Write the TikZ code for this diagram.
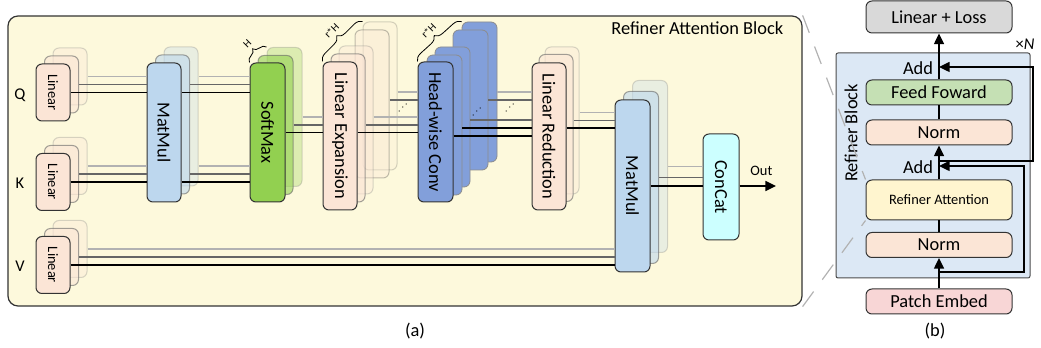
\documentclass[tikz,border=0pt]{standalone}
\usepackage{fontspec}
\setmainfont{Carlito}
\usetikzlibrary{arrows.meta,decorations.pathreplacing}
\definecolor{panelbg}{HTML}{FDF9DC}
\definecolor{peach}{HTML}{FBE5D6}
\definecolor{mulblue}{HTML}{BDD7EE}
\definecolor{softgreen}{HTML}{92D050}
\definecolor{convblue}{HTML}{829FDA}
\definecolor{catcyan}{HTML}{CCFFFF}
\definecolor{blockbg}{HTML}{DCE8F5}
\definecolor{ffgreen}{HTML}{C5E0B4}
\definecolor{attyellow}{HTML}{FFF5CF}
\definecolor{lossgray}{HTML}{D9D9D9}
\definecolor{embpink}{HTML}{F8D6D6}
\newcommand{\fbig}{\fontsize{13.8}{16}\selectfont}
\newcommand{\fmid}{\fontsize{12.3}{14}\selectfont}
\newcommand{\fsmall}{\fontsize{10.8}{13}\selectfont}
\newcommand{\ftiny}{\fontsize{8}{9}\selectfont}
\newcommand{\vtext}[1]{\rotatebox{-90}{#1}}
\tikzstyle{box}=[shape=rectangle,rounded corners=4.5pt,draw=black!80,line width=0.75pt,inner sep=0pt]
\tikzstyle{fadeA}=[draw=black!60,opacity=0.6]
\tikzstyle{fadeB}=[draw=black!50,opacity=0.3]
\tikzstyle{linbox}=[box,fill=peach,minimum width=25.5pt,minimum height=42.75pt,font=\fsmall]
\tikzstyle{mulbox}=[box,fill=mulblue,minimum width=25.5pt,minimum height=104.25pt,font=\fbig]
\tikzstyle{softbox}=[box,fill=softgreen,minimum width=26.25pt,minimum height=104.25pt,font=\fbig]
\tikzstyle{expbox}=[box,fill=peach,minimum width=25.5pt,minimum height=111pt,font=\fbig]
\tikzstyle{convbox}=[box,fill=convblue,minimum width=26.25pt,minimum height=105pt,font=\fbig]
\tikzstyle{convback}=[draw=black!45,line width=0.6pt]
\tikzstyle{redbox}=[box,fill=peach,minimum width=25.5pt,minimum height=110.25pt,font=\fbig]
\tikzstyle{mulboxb}=[box,fill=mulblue,minimum width=26.25pt,minimum height=129pt,font=\fbig]
\tikzstyle{catbox}=[box,fill=catcyan,minimum width=27pt,minimum height=79.5pt,font=\fbig]
\tikzstyle{lfront}=[draw=black,line width=1.1pt]
\tikzstyle{lmid}=[draw=black!60,line width=0.85pt]
\tikzstyle{lback}=[draw=black!30,line width=0.85pt]
\tikzstyle{brc}=[decorate,decoration={brace,amplitude=6pt},line width=0.6pt]
\tikzstyle{brlabel}=[midway,rotate=45,above=8pt,inner sep=0.5pt,font=\ftiny]
\tikzstyle{dots}=[rotate=45,inner sep=0pt,font=\footnotesize]
\tikzstyle{flow}=[-{Triangle[length=8pt,width=7.5pt]},line width=1.1pt]
\tikzstyle{trunk}=[line width=1.1pt]
\tikzstyle{stage}=[box,minimum width=109.5pt,minimum height=18.75pt,font=\fbig]
\tikzstyle{link}=[draw=black!30,line width=0.9pt,dash pattern=on 14pt off 11pt]

\begin{document}
\begin{tikzpicture}[x=0.75pt,y=-0.75pt]
\useasboundingbox (0,0) rectangle (1041,348);
% panel (a)
\node[box,fill=panelbg,rounded corners=7.5pt,line width=0.9pt,minimum width=595.5pt,minimum height=217.5pt] (pa) at (405,161) {};
\node[anchor=east,font=\fbig] (ttl) at (788,28) {Refiner Attention Block};
\node[font=\fmid] (lq) at (20,95) {Q};
\node[font=\fmid] (lk) at (20,183) {K};
\node[font=\fmid] (lv) at (20,266) {V};
% linear layers
\node[linbox,fadeB] (q3) at (70,76.5) {};
\node[linbox,fadeA] (q2) at (61.5,84.5) {};
\node[linbox] (q1) at (53,92.5) {\vtext{Linear}};
\node[linbox,fadeB] (k3) at (70,166) {};
\node[linbox,fadeA] (k2) at (61.5,174) {};
\node[linbox] (k1) at (53,182) {\vtext{Linear}};
\node[linbox,fadeB] (v3) at (70,249) {};
\node[linbox,fadeA] (v2) at (61.5,257) {};
\node[linbox] (v1) at (53,265) {\vtext{Linear}};
% matmul, softmax
\node[mulbox,fadeB] (ma3) at (181,116.5) {};
\node[mulbox,fadeA] (ma2) at (172.5,124.5) {};
\node[mulbox] (ma1) at (164,132.5) {\vtext{MatMul}};
\node[softbox,fadeB] (sm3) at (284.5,117) {};
\node[softbox,fadeA] (sm2) at (275.5,125) {};
\node[softbox] (sm1) at (267.5,132.5) {\vtext{SoftMax}};
% expansion, conv, reduction
\node[expbox,opacity=0.2] (le5) at (380,96) {};
\node[expbox,opacity=0.3] (le4) at (372,104) {};
\node[expbox,fadeB] (le3) at (356,120) {};
\node[expbox,fadeA] (le2) at (348,128) {};
\node[expbox] (le1) at (340,136) {\vtext{Linear Expansion}};
\node[convbox,convback] (hw5) at (479.5,92) {};
\node[convbox,convback] (hw4) at (470.5,100) {};
\node[convbox,convback] (hw3) at (452.5,117) {};
\node[convbox,convback] (hw2) at (444.5,125) {};
\node[convbox] (hw1) at (435.5,132) {\vtext{Head-wise Conv}};
\node[redbox,fadeB] (lr3) at (562,120.5) {};
\node[redbox,fadeA] (lr2) at (556,128) {};
\node[redbox] (lr1) at (549,136.5) {\vtext{Linear Reduction}};
\node[mulboxb,fadeB] (mb3) at (650,166.5) {};
\node[mulboxb,fadeA] (mb2) at (641,177.5) {};
\node[mulboxb] (mb1) at (632.5,186) {\vtext{MatMul}};
\node[catbox] (cc) at (721,187) {\vtext{ConCat}};
% braces
\draw[brc] (sm1.north west) -- (sm3.north west) node[brlabel] {H};
\draw[brc] (le1.north west) -- (le5.north west) node[brlabel] {r*H};
\draw[brc] (hw1.north west) -- (hw5.north west) node[brlabel] {r*H};
% connections
\draw[lback] (q3.east) -- (ma1.west |- q3.east);
\draw[lmid] (q2.east) -- (ma1.west |- q2.east);
\draw[lfront] (q1.east) -- (ma1.west |- q1.east);
\draw[lback] (k3.east) -- (ma1.west |- k3.east);
\draw[lmid] (k2.east) -- (ma1.west |- k2.east);
\draw[lfront] (k1.east) -- (ma1.west |- k1.east);
\draw[lback] (ma3.east |- q3) -- (sm1.west |- q3);
\draw[lmid] (ma2.east |- q2) -- (sm1.west |- q2);
\draw[lfront] (ma1.east |- q1) -- (sm1.west |- q1);
\draw[lback] (ma3.east |- k3) -- (sm1.west |- k3);
\draw[lmid] (ma2.east |- k2) -- (sm1.west |- k2);
\draw[lfront] (ma1.east |- k1) -- (sm1.west |- k1);
\draw[lback] (sm3.east) -- (le1.west |- sm3);
\draw[lmid] (sm2.east) -- (le1.west |- sm2);
\draw[lfront] (sm1.east) -- (le1.west |- sm1);
\draw[lback] (le5.east |- hw5) -- (hw1.west |- hw5);
\draw[lmid] (le4.east |- hw4) -- (hw1.west |- hw4);
\draw[lback] (le3.east |- sm3) -- (hw1.west |- sm3);
\draw[lmid] (le2.east |- sm2) -- (hw1.west |- sm2);
\draw[lfront] (le1.east |- sm1) -- (hw1.west |- sm1);
\draw[lback] (hw5.east) -- (lr1.west |- hw5);
\draw[lmid] (hw4.east) -- (lr1.west |- hw4);
\draw[lmid] (hw3.east |- le3) -- (lr1.west |- le3);
\draw[lfront] (hw2.east |- le2) -- (lr1.west |- le2);
\draw[lfront] (hw1.east |- le1) -- (lr1.west |- le1);
\draw[lback] ([yshift=6pt]lr3.east) -- ([yshift=6pt]mb1.west |- lr3.east);
\draw[lmid] (lr2.east |- lr3) -- (mb1.west |- lr3);
\draw[lfront] (lr1.east |- lr2) -- (mb1.west |- lr2);
\draw[lback] (v3.east) -- (mb1.west |- v3.east);
\draw[lmid] (v2.east) -- (mb1.west |- v2.east);
\draw[lfront] (v1.east) -- (mb1.west |- v1.east);
\draw[lback] (mb3.east) -- (cc.west |- mb3.east);
\draw[lmid] (mb2.east) -- (cc.west |- mb2.east);
\draw[lfront] (mb1.east) -- (cc.west |- mb1.east);
\coordinate (out) at (776,186);
\draw[flow] (cc.east |- mb1) -- (out) node[pos=0.6,above=4pt,font=\fsmall] {Out};
\node[dots] (d1) at (403,108) {$\cdots$};
\node[dots] (d2) at (477,112) {$\cdots$};
\node[dots] (d3) at (510,108) {$\cdots$};
\node[font=\fbig] (capa) at (415,331) {(a)};
% panel (b)
\node[box,rounded corners=1.5pt,fill=blockbg,draw=black!70,minimum width=145.5pt,minimum height=168.75pt] (blk) at (933,165.5) {};
\node[rotate=90,font=\fbig] (bt) at (851,133) {Refiner Block};
\node[stage,fill=lossgray,minimum height=24pt] (ll) at (939,17) {Linear + Loss};
\node[stage,fill=ffgreen] (ff) at (939,92.5) {Feed Foward};
\node[stage,fill=peach] (n2) at (939,132.5) {Norm};
\node[stage,fill=attyellow,minimum height=30pt,font=\fsmall] (ra) at (939,200) {Refiner Attention};
\node[stage,fill=peach] (n1) at (939,245) {Norm};
\node[stage,fill=embpink] (pe) at (939,301.5) {Patch Embed};
\node[font=\fbig] (add2) at (918,68) {Add};
\node[font=\fbig] (add1) at (918,167) {Add};
\node[font=\fmid] (xn) at (1025,44) {×\textit{N}};
\draw[flow] (pe.north) -- (n1.south);
\draw[trunk] (n1.north) -- (ra.south);
\draw[flow] (ra.north) -- (n2.south);
\draw[trunk] (n2.north) -- (ff.south);
\draw[flow] (ff.north) -- (ll.south);
\draw[flow] (pe.north |- 0,272) -| (1024,166) -- (ra.north |- 0,166);
\draw[flow] (ra.north |- 0,161) -| (1033,67) -- (ff.north |- 0,67);
\node[font=\fbig] (capb) at (935,331) {(b)};
% links
\draw[link] (pa.north east) -- (ra.north west);
\draw[link] (pa.south east) -- (ra.south west);
\end{tikzpicture}
\end{document}
